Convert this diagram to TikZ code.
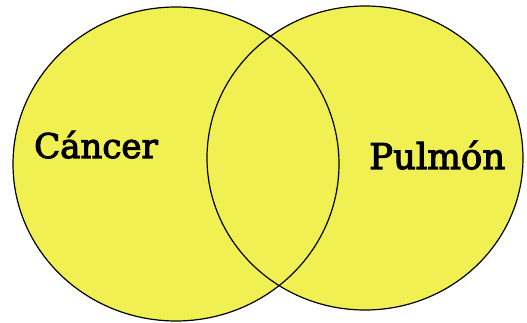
\documentclass[tikz,border=0pt]{standalone}
\usepackage{fontspec}
\setmainfont{DejaVu Serif}[FakeBold=3]
\definecolor{vennyellow}{RGB}{240,240,82}
\begin{document}
\begin{tikzpicture}[x=1pt,y=-1pt,
  setfill/.style={fill=vennyellow},
  setline/.style={draw=black,line width=1.2pt},
  setlabel/.style={anchor=base west,inner sep=0pt,font=\fontsize{34}{34}\selectfont}]
\useasboundingbox (0,0) rectangle (527,323);
\fill[setfill] (176,164) ellipse [x radius=163, y radius=157];
\fill[setfill] (365,158) ellipse [x radius=158, y radius=152];
\draw[setline] (176,164) ellipse [x radius=163, y radius=157];
\draw[setline] (365,158) ellipse [x radius=158, y radius=152];
\node[setlabel] (cancer) at (34,158) {Cáncer};
\node[setlabel,font=\fontsize{35.5}{35.5}\selectfont] (pulmon) at (369,169) {Pulmón};
\end{tikzpicture}
\end{document}
